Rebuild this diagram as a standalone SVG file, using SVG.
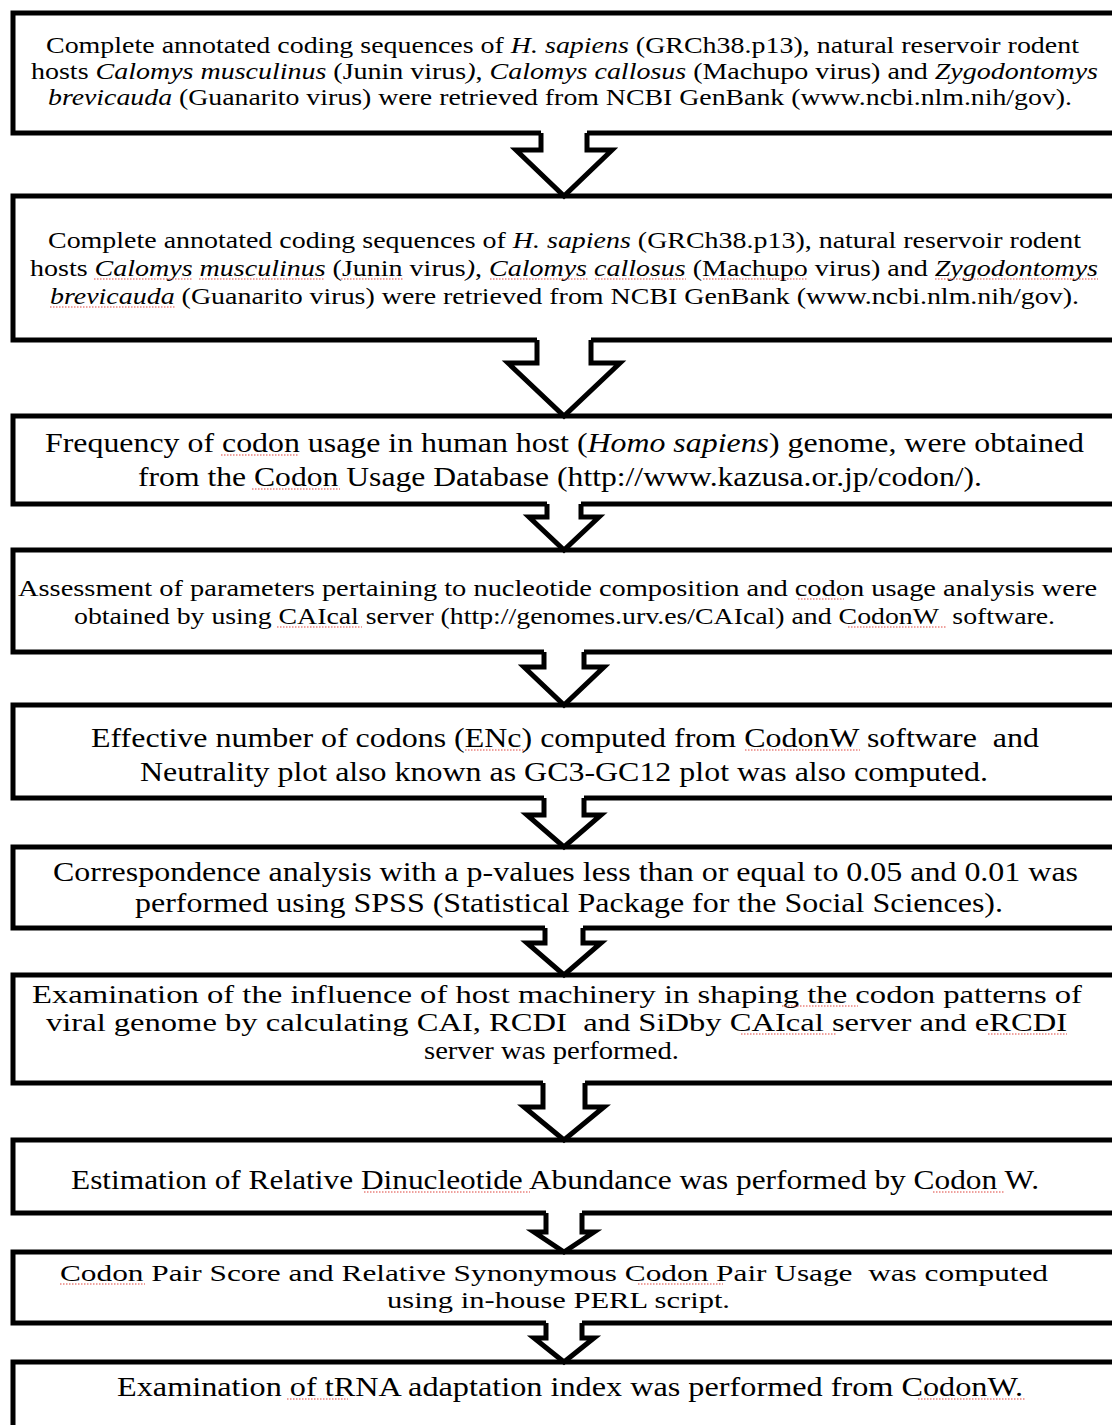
<svg xmlns="http://www.w3.org/2000/svg" width="1112" height="1425" viewBox="0 0 1112 1425">
<style>
.box{fill:#fff;stroke:#000;stroke-width:5;stroke-linejoin:miter}
.af{fill:#fff;stroke:none}
.arr{fill:none;stroke:#000;stroke-width:5;stroke-linejoin:miter;stroke-miterlimit:10}
.t{font-family:"Liberation Serif","Times New Roman",serif;fill:#000}
.s24{font-size:24px}
.s25{font-size:25px}
.s27{font-size:27px}
.s28{font-size:28px}
.sp{stroke:#e0443c;stroke-width:1.2;stroke-dasharray:1.5 1.5;fill:none}
</style>
<rect width="1112" height="1425" fill="#fff"/>
<g id="node1">
<rect class="box" x="13" y="13" width="1112" height="120"/>
<text class="t s24" x="46" y="53" textLength="1033" lengthAdjust="spacingAndGlyphs">Complete annotated coding sequences of <tspan font-style="italic">H.</tspan> <tspan font-style="italic">sapiens</tspan> (GRCh38.p13), natural reservoir rodent</text>
<text class="t s24" x="31" y="79" textLength="1067" lengthAdjust="spacingAndGlyphs">hosts <tspan font-style="italic">Calomys musculinus</tspan> (Junin virus<tspan font-style="italic">)</tspan>, <tspan font-style="italic">Calomys callosus</tspan> (Machupo virus) and <tspan font-style="italic">Zygodontomys</tspan></text>
<text class="t s24" x="48" y="105" textLength="1024" lengthAdjust="spacingAndGlyphs"><tspan font-style="italic">brevicauda</tspan> (Guanarito virus) were retrieved from NCBI GenBank (www.ncbi.nlm.nih/gov).</text>
</g>
<g id="node2">
<rect class="box" x="13" y="196" width="1112" height="144"/>
<text class="t s24" x="48" y="248" textLength="1033" lengthAdjust="spacingAndGlyphs">Complete annotated coding sequences of <tspan font-style="italic">H.</tspan> <tspan font-style="italic">sapiens</tspan> (GRCh38.p13), natural reservoir rodent</text>
<text class="t s24" x="30" y="276" textLength="1068" lengthAdjust="spacingAndGlyphs">hosts <tspan font-style="italic">Calomys musculinus</tspan> (Junin virus<tspan font-style="italic">)</tspan>, <tspan font-style="italic">Calomys callosus</tspan> (Machupo virus) and <tspan font-style="italic">Zygodontomys</tspan></text>
<text class="t s24" x="50" y="304" textLength="1029" lengthAdjust="spacingAndGlyphs"><tspan font-style="italic">brevicauda</tspan> (Guanarito virus) were retrieved from NCBI GenBank (www.ncbi.nlm.nih/gov).</text>
<path class="sp" d="M94,279H192M199,279H325M341,279H404M490,279H588M595,279H686M703,279H808M935,279H1098M50,307H175"/>
</g>
<g id="node3">
<rect class="box" x="13" y="416" width="1112" height="88"/>
<text class="t s28" x="45" y="452" textLength="1039" lengthAdjust="spacingAndGlyphs">Frequency of codon usage in human host (<tspan font-style="italic">Homo sapiens</tspan>) genome, were obtained</text>
<text class="t s28" x="138" y="486" textLength="844" lengthAdjust="spacingAndGlyphs">from the Codon Usage Database (http://www.kazusa.or.jp/codon/).</text>
<path class="sp" d="M221,455H298M252,489H340"/>
</g>
<g id="node4">
<rect class="box" x="13" y="550" width="1112" height="102"/>
<text class="t s24" x="18" y="596" textLength="1079" lengthAdjust="spacingAndGlyphs">Assessment of parameters pertaining to nucleotide composition and codon usage analysis were</text>
<text class="t s24" x="74" y="624" textLength="981" lengthAdjust="spacingAndGlyphs" xml:space="preserve">obtained by using CAIcal server (http://genomes.urv.es/CAIcal) and CodonW  software.</text>
<path class="sp" d="M798,599H844M277,627H362M848,627H947"/>
</g>
<g id="node5">
<rect class="box" x="13" y="705" width="1112" height="93"/>
<text class="t s27" x="91" y="747" textLength="948" lengthAdjust="spacingAndGlyphs" xml:space="preserve">Effective number of codons (ENc) computed from CodonW software  and</text>
<text class="t s27" x="140" y="781" textLength="848" lengthAdjust="spacingAndGlyphs">Neutrality plot also known as GC3-GC12 plot was also computed.</text>
<path class="sp" d="M465,750H525M745,750H860"/>
</g>
<g id="node6">
<rect class="box" x="13" y="847" width="1112" height="81"/>
<text class="t s27" x="53" y="881" textLength="1025" lengthAdjust="spacingAndGlyphs">Correspondence analysis with a p-values less than or equal to 0.05 and 0.01 was</text>
<text class="t s27" x="135" y="912" textLength="868" lengthAdjust="spacingAndGlyphs">performed using SPSS (Statistical Package for the Social Sciences).</text>
</g>
<g id="node7">
<rect class="box" x="13" y="975" width="1112" height="108"/>
<text class="t s25" x="32" y="1003" textLength="1050" lengthAdjust="spacingAndGlyphs">Examination of the influence of host machinery in shaping the codon patterns of</text>
<text class="t s25" x="46" y="1031" textLength="1021" lengthAdjust="spacingAndGlyphs" xml:space="preserve">viral genome by calculating CAI, RCDI  and SiDby CAIcal server and eRCDI</text>
<text class="t s25" x="424" y="1059" textLength="255" lengthAdjust="spacingAndGlyphs">server was performed.</text>
<path class="sp" d="M782,1006H858M741,1034H837M988,1034H1067"/>
</g>
<g id="node8">
<rect class="box" x="13" y="1140" width="1112" height="73"/>
<text class="t s27" x="71" y="1189" textLength="968" lengthAdjust="spacingAndGlyphs">Estimation of Relative Dinucleotide Abundance was performed by Codon W.</text>
<path class="sp" d="M364,1192H530M933,1192H1004"/>
</g>
<g id="node9">
<rect class="box" x="13" y="1252" width="1112" height="71"/>
<text class="t s24" x="60" y="1281" textLength="988" lengthAdjust="spacingAndGlyphs" xml:space="preserve">Codon Pair Score and Relative Synonymous Codon Pair Usage  was computed</text>
<text class="t s24" x="387" y="1308" textLength="343" lengthAdjust="spacingAndGlyphs">using in-house PERL script.</text>
<path class="sp" d="M60,1284H145M638,1284H723"/>
</g>
<g id="node10">
<rect class="box" x="13" y="1362" width="1112" height="80"/>
<text class="t s27" x="117" y="1396" textLength="906" lengthAdjust="spacingAndGlyphs">Examination of tRNA adaptation index was performed from CodonW.</text>
<path class="sp" d="M287,1399H348M918,1399H1025"/>
</g>
<g id="connectors">
<path class="af" d="M541,129V150H516L564,196L612,150H587V129Z"/>
<path class="arr" d="M541,133V150H516L564,196L612,150H587V133"/>
<path class="af" d="M537,336V363H508L564,416L620,363H591V336Z"/>
<path class="arr" d="M537,340V363H508L564,416L620,363H591V340"/>
<path class="af" d="M547,500V517H529L564,550L599,517H581V500Z"/>
<path class="arr" d="M547,504V517H529L564,550L599,517H581V504"/>
<path class="af" d="M544,648V667H524L564,705L604,667H584V648Z"/>
<path class="arr" d="M544,652V667H524L564,705L604,667H584V652"/>
<path class="af" d="M544,794V815H527L564,847L601,815H584V794Z"/>
<path class="arr" d="M544,798V815H527L564,847L601,815H584V798"/>
<path class="af" d="M545,924V943H527L564,975L601,943H583V924Z"/>
<path class="arr" d="M545,928V943H527L564,975L601,943H583V928"/>
<path class="af" d="M543,1079V1107H524L564,1140L604,1107H585V1079Z"/>
<path class="arr" d="M543,1083V1107H524L564,1140L604,1107H585V1083"/>
<path class="af" d="M546,1209V1232H534L564,1252L594,1232H582V1209Z"/>
<path class="arr" d="M546,1213V1232H534L564,1252L594,1232H582V1213"/>
<path class="af" d="M546,1319V1338H534L564,1362L594,1338H582V1319Z"/>
<path class="arr" d="M546,1323V1338H534L564,1362L594,1338H582V1323"/>
</g>
</svg>
